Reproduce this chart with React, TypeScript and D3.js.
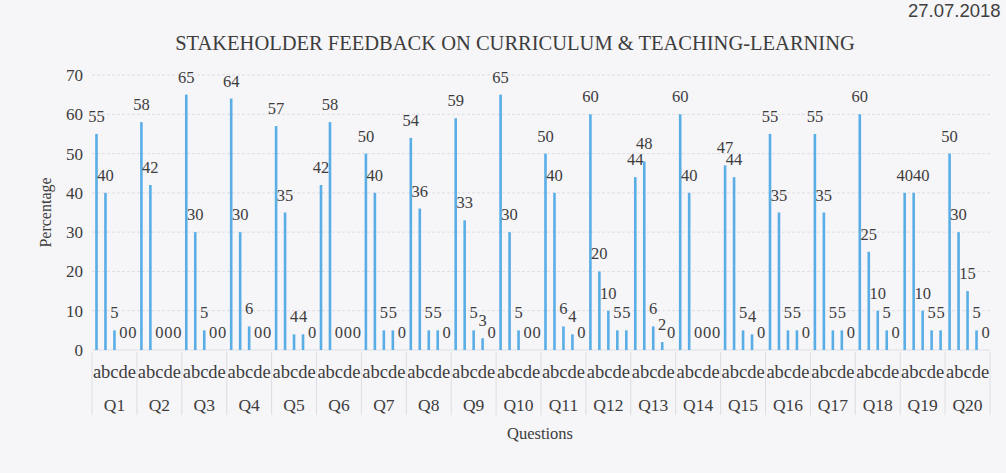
import * as d3 from 'd3'

const questions = ['Q1', 'Q2', 'Q3', 'Q4', 'Q5', 'Q6', 'Q7', 'Q8', 'Q9', 'Q10', 'Q11', 'Q12', 'Q13', 'Q14', 'Q15', 'Q16', 'Q17', 'Q18', 'Q19', 'Q20']
const options = ['a', 'b', 'c', 'd', 'e']
const optA = [55, 58, 65, 64, 57, 42, 50, 54, 59, 65, 50, 60, 44, 60, 47, 55, 55, 60, 40, 50]
const optB = [40, 42, 30, 30, 35, 58, 40, 36, 33, 30, 40, 20, 48, 40, 44, 35, 35, 25, 40, 30]
const optC = [5, 0, 5, 6, 4, 0, 5, 5, 5, 5, 6, 10, 6, 0, 5, 5, 5, 10, 10, 15]
const optD = [0, 0, 0, 0, 4, 0, 5, 5, 3, 0, 4, 5, 2, 0, 4, 5, 5, 5, 5, 5]
const optE = [0, 0, 0, 0, 0, 0, 0, 0, 0, 0, 0, 5, 0, 0, 0, 0, 0, 0, 5, 0]
const yTicks = [0, 10, 20, 30, 40, 50, 60, 70]

const WIDTH = 1006
const HEIGHT = 473
const BAR_COLOR = '#5aaee6'
const TEXT_COLOR = '#3d3d3d'
const SERIF = "'Liberation Serif', 'Times New Roman', Times, 'DejaVu Serif', serif"
const LABEL_SIZE = 16.5

export default function App() {
  const series = [optA, optB, optC, optD, optE]
  const x0 = d3.scaleBand(questions, [92, 990])
  const x1 = d3.scaleBand(options, [0, x0.bandwidth()])
  const y = d3.scaleLinear([0, 70], [350, 75])
  const barW = 2.6
  const ts = { fontFamily: SERIF }

  return (
    <svg
      width={WIDTH}
      height={HEIGHT}
      style={{ position: 'absolute', left: 0, top: 0, display: 'block', fontFamily: SERIF }}
    >
      <rect width={WIDTH} height={HEIGHT} fill="#f6f5f8" />

      <text x={908} y={17} style={{ fontFamily: "'Liberation Sans', Arial, sans-serif" }} fontSize={18.5} fill="#404040">
        27.07.2018
      </text>

      <text x={515} y={50} textAnchor="middle" fontSize={20.5} fill={TEXT_COLOR} style={ts}>
        STAKEHOLDER FEEDBACK ON CURRICULUM &amp; TEACHING-LEARNING
      </text>

      {/* gridlines */}
      {yTicks.map((t) => (
        <g key={t}>
          <line
            x1={92}
            x2={990}
            y1={y(t)}
            y2={y(t)}
            stroke="#dedde4"
            strokeWidth={1}
            strokeDasharray={t === 0 ? undefined : '3 2'}
          />
          <text x={83} y={y(t) + 6} textAnchor="end" fontSize={17} fill={TEXT_COLOR} style={ts}>
            {t}
          </text>
        </g>
      ))}

      <text
        transform={`translate(51,${y(35)}) rotate(-90)`}
        textAnchor="middle"
        fontSize={16}
        fill={TEXT_COLOR}
        style={ts}
      >
        Percentage
      </text>

      {/* category separators */}
      {[...questions.map((q) => x0(q)!), 990].map((xv, i) => (
        <line key={i} x1={xv} x2={xv} y1={352} y2={415} stroke="#dedde4" strokeWidth={1} />
      ))}

      {questions.map((q, qi) => {
        let prevRight = -Infinity
        let prevY = -Infinity
        return (
          <g key={q} transform={`translate(${x0(q)},0)`}>
            {options.map((o, oi) => {
              const v = series[oi][qi]
              const cx = x1(o)! + x1.bandwidth() / 2
              const w = String(v).length * LABEL_SIZE * 0.5
              let lx = cx
              // equal-height neighbours sit side by side instead of on top of each other
              if (Math.abs(y(v) - prevY) < 4 && lx - w / 2 < prevRight) lx = prevRight + w / 2
              prevRight = lx + w / 2
              prevY = y(v)
              return (
                <g key={o}>
                  {v > 0 && (
                    <rect x={cx - barW / 2} y={y(v)} width={barW} height={y(0) - y(v)} fill={BAR_COLOR} />
                  )}
                  <text x={lx} y={y(v) - 12} textAnchor="middle" fontSize={LABEL_SIZE} fill={TEXT_COLOR} style={ts}>
                    {v}
                  </text>
                </g>
              )
            })}
            <text x={x0.bandwidth() / 2} y={378} textAnchor="middle" fontSize={18.5} fill={TEXT_COLOR} style={ts}>
              abcde
            </text>
            <text x={x0.bandwidth() / 2} y={411} textAnchor="middle" fontSize={17.5} fill={TEXT_COLOR} style={ts}>
              {q}
            </text>
          </g>
        )
      })}

      <text x={540} y={439} textAnchor="middle" fontSize={16.5} fill={TEXT_COLOR} style={ts}>
        Questions
      </text>
    </svg>
  )
}
